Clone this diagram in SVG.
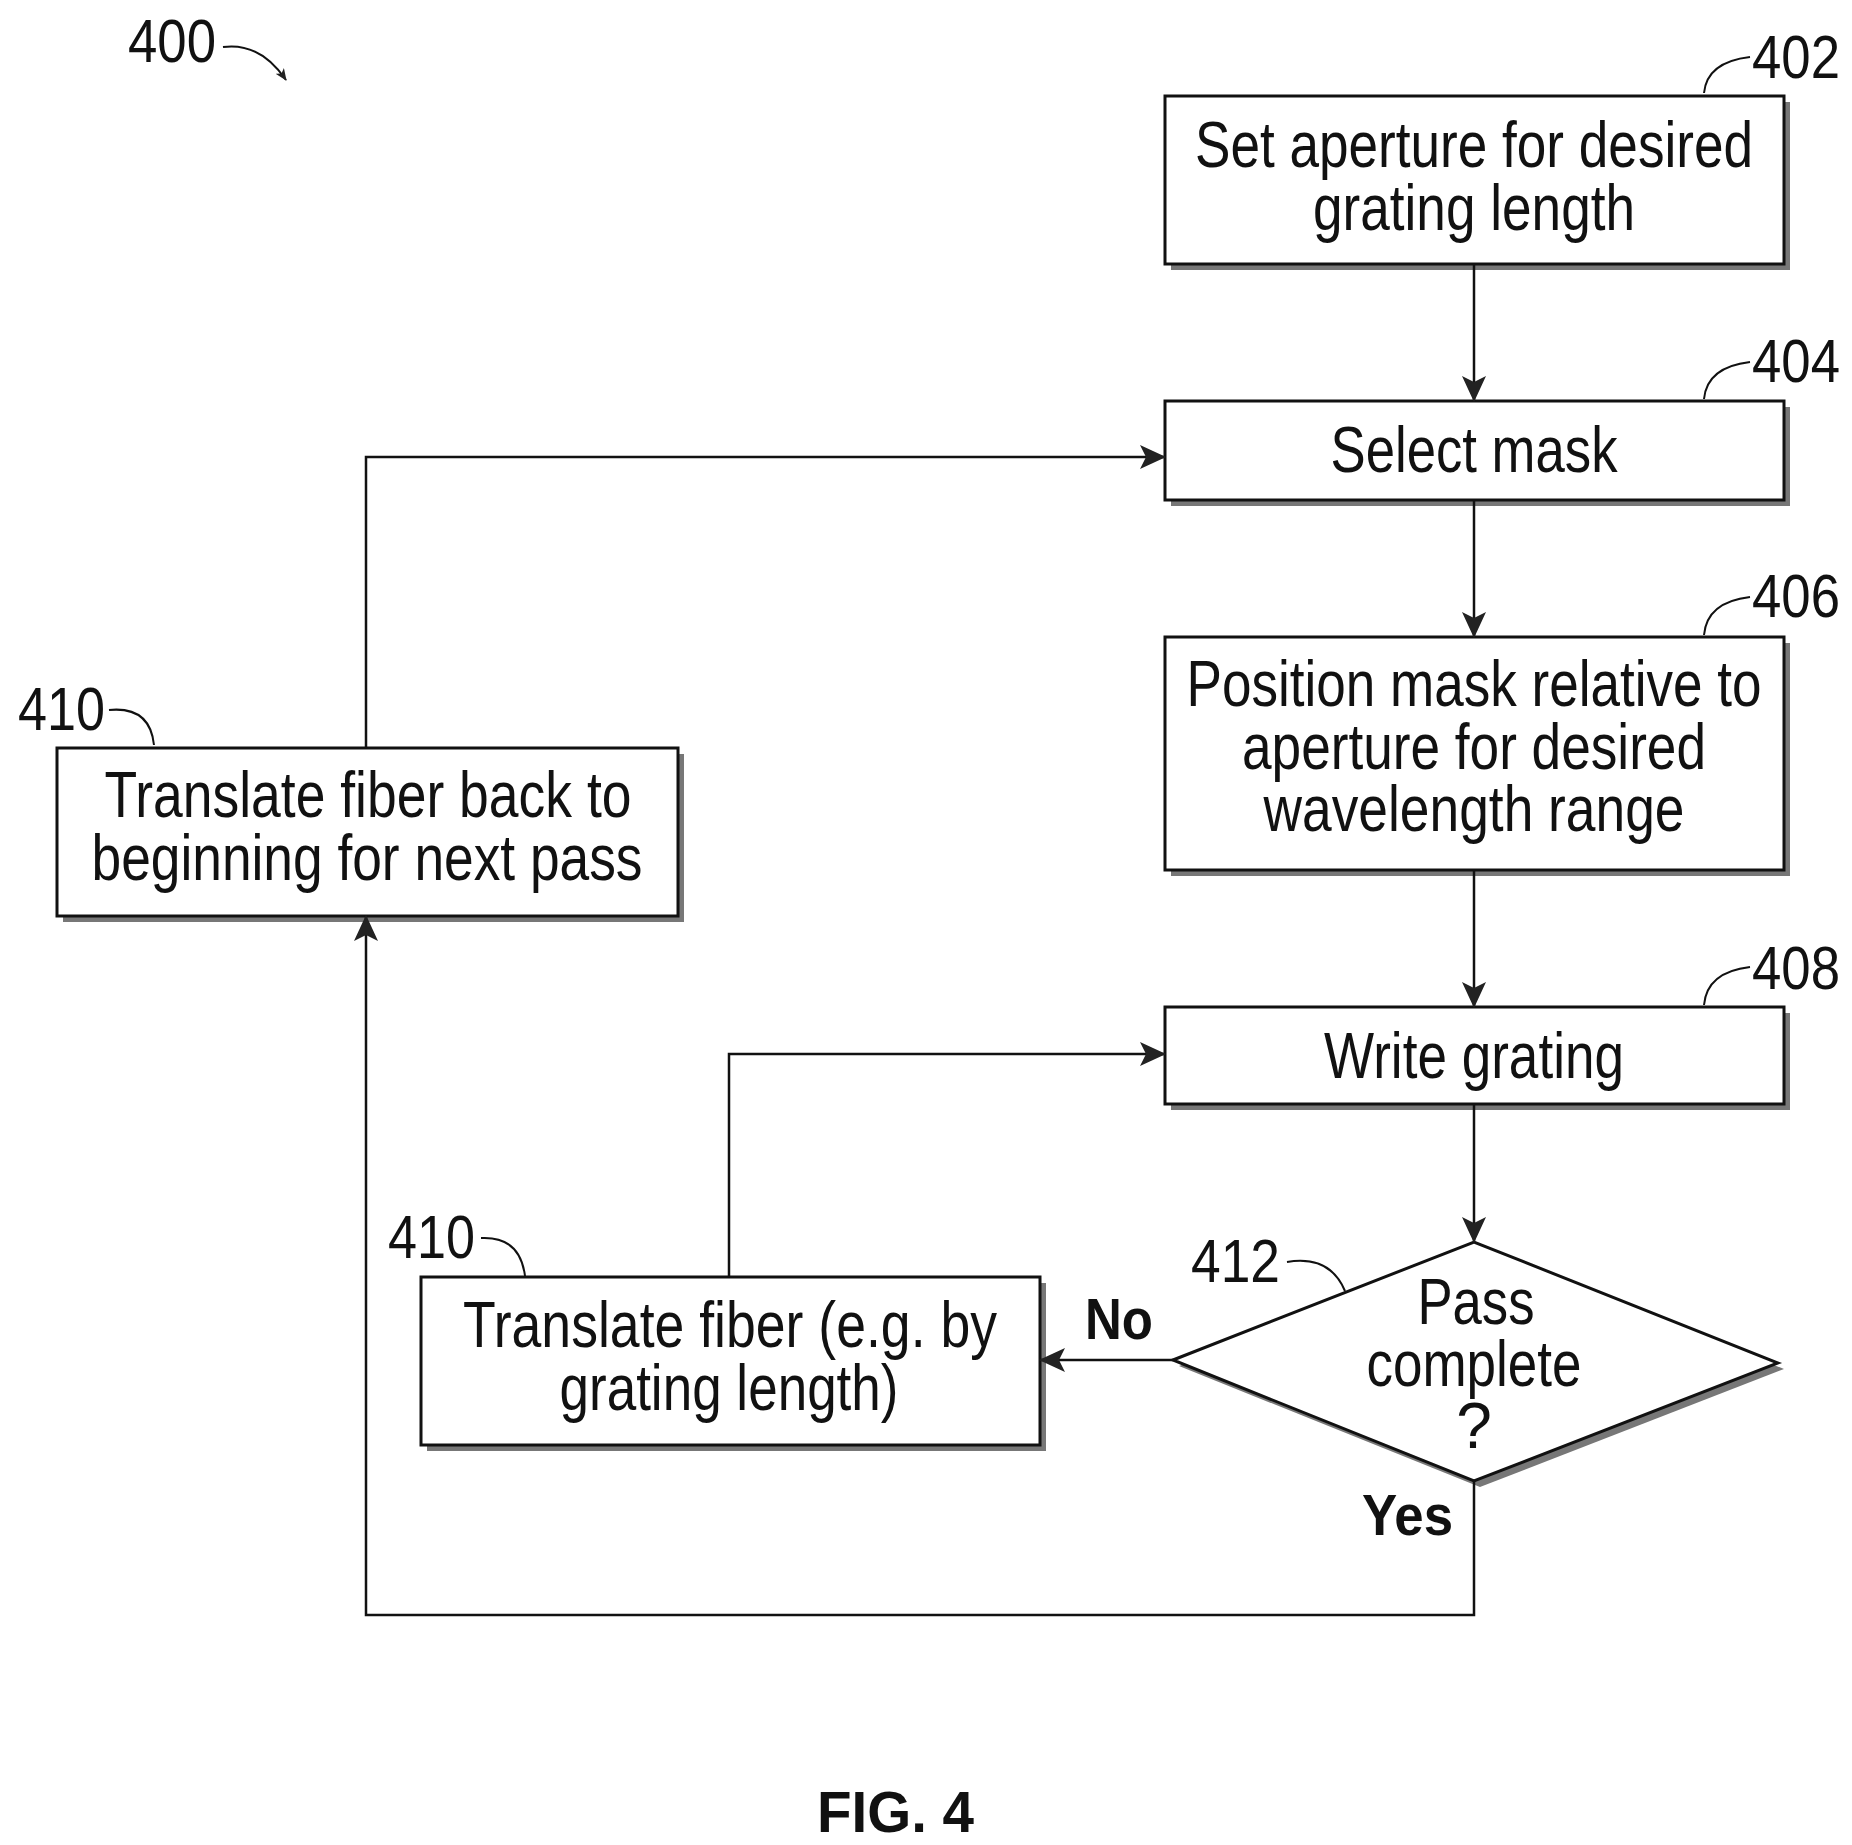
<svg xmlns="http://www.w3.org/2000/svg" width="1852" height="1845" viewBox="0 0 1852 1845">
<defs>
<marker id="ah" markerWidth="12" markerHeight="10" refX="11" refY="5" orient="auto" markerUnits="userSpaceOnUse" viewBox="0 0 12 10"><path d="M0,0 L12,5 L0,10 L3,5 Z" fill="#222"/></marker>
<marker id="ah2" markerWidth="26" markerHeight="24" refX="24" refY="12" orient="auto" markerUnits="userSpaceOnUse" viewBox="0 0 26 24"><path d="M0,0 L26,12 L0,24 L6,12 Z" fill="#222"/></marker>
</defs>
<style>
.box{fill:#fff;stroke:#111;stroke-width:3}
.sh{fill:#777}
.t{font-family:"Liberation Sans",Arial,sans-serif;font-size:64px;fill:#111;text-anchor:middle}
.n{font-family:"Liberation Sans",Arial,sans-serif;font-size:62px;fill:#111}
.b{font-family:"Liberation Sans",Arial,sans-serif;font-size:58px;font-weight:bold;fill:#111}
.ln{fill:none;stroke:#111;stroke-width:2.5}
.ld{fill:none;stroke:#111;stroke-width:2}
</style>
<rect width="1852" height="1845" fill="#fff"/>
<g id="n400">
<text class="n" x="128" y="62" textLength="88" lengthAdjust="spacingAndGlyphs">400</text>
<path class="ld" d="M223,47 Q260,42 286,80" marker-end="url(#ah)"/>
</g>
<g id="n402">
<rect class="sh" x="1171" y="102" width="619" height="168"/>
<rect class="box" x="1165" y="96" width="619" height="168"/>
<text class="t" x="1474" y="167" textLength="558" lengthAdjust="spacingAndGlyphs">Set aperture for desired</text>
<text class="t" x="1474" y="230" textLength="322" lengthAdjust="spacingAndGlyphs">grating length</text>
<path class="ld" d="M1704,93 Q1707,62 1750,57"/>
<text class="n" x="1752" y="78" textLength="88" lengthAdjust="spacingAndGlyphs">402</text>
</g>
<g id="n404">
<rect class="sh" x="1171" y="407" width="619" height="99"/>
<rect class="box" x="1165" y="401" width="619" height="99"/>
<text class="t" x="1474" y="472" textLength="287" lengthAdjust="spacingAndGlyphs">Select mask</text>
<path class="ld" d="M1704,399 Q1707,367 1750,362"/>
<text class="n" x="1752" y="382" textLength="88" lengthAdjust="spacingAndGlyphs">404</text>
</g>
<g id="n406">
<rect class="sh" x="1171" y="643" width="619" height="233"/>
<rect class="box" x="1165" y="637" width="619" height="233"/>
<text class="t" x="1474" y="706" textLength="575" lengthAdjust="spacingAndGlyphs">Position mask relative to</text>
<text class="t" x="1474" y="769" textLength="464" lengthAdjust="spacingAndGlyphs">aperture for desired</text>
<text class="t" x="1474" y="831" textLength="421" lengthAdjust="spacingAndGlyphs">wavelength range</text>
<path class="ld" d="M1704,635 Q1707,602 1750,597"/>
<text class="n" x="1752" y="617" textLength="88" lengthAdjust="spacingAndGlyphs">406</text>
</g>
<g id="n408">
<rect class="sh" x="1171" y="1013" width="619" height="97"/>
<rect class="box" x="1165" y="1007" width="619" height="97"/>
<text class="t" x="1474" y="1078" textLength="300" lengthAdjust="spacingAndGlyphs">Write grating</text>
<path class="ld" d="M1704,1005 Q1707,972 1750,967"/>
<text class="n" x="1752" y="989" textLength="88" lengthAdjust="spacingAndGlyphs">408</text>
</g>
<g id="n412">
<polygon class="sh" points="1179,1366 1480,1248 1784,1369 1480,1487"/>
<polygon class="box" points="1173,1360 1474,1242 1778,1363 1474,1481"/>
<text class="t" x="1476" y="1324" textLength="117" lengthAdjust="spacingAndGlyphs">Pass</text>
<text class="t" x="1474" y="1386" textLength="215" lengthAdjust="spacingAndGlyphs">complete</text>
<text class="t" x="1474" y="1448" font-size="58">?</text>
<path class="ld" d="M1287,1262 Q1330,1255 1345,1291"/>
<text class="n" x="1191" y="1282" textLength="89" lengthAdjust="spacingAndGlyphs">412</text>
</g>
<g id="n410b">
<rect class="sh" x="427" y="1283" width="619" height="168"/>
<rect class="box" x="421" y="1277" width="619" height="168"/>
<text class="t" x="730" y="1347" textLength="534" lengthAdjust="spacingAndGlyphs">Translate fiber (e.g. by</text>
<text class="t" x="729" y="1410" textLength="339" lengthAdjust="spacingAndGlyphs">grating length)</text>
<path class="ld" d="M481,1238 Q520,1236 525,1276"/>
<text class="n" x="388" y="1258" textLength="87" lengthAdjust="spacingAndGlyphs">410</text>
</g>
<g id="n410a">
<rect class="sh" x="63" y="754" width="621" height="168"/>
<rect class="box" x="57" y="748" width="621" height="168"/>
<text class="t" x="368" y="817" textLength="527" lengthAdjust="spacingAndGlyphs">Translate fiber back to</text>
<text class="t" x="367" y="880" textLength="551" lengthAdjust="spacingAndGlyphs">beginning for next pass</text>
<path class="ld" d="M109,710 Q150,706 154,745"/>
<text class="n" x="18" y="730" textLength="87" lengthAdjust="spacingAndGlyphs">410</text>
</g>
<g id="connectors">
<line class="ln" x1="1474" y1="264" x2="1474" y2="400" marker-end="url(#ah2)"/>
<line class="ln" x1="1474" y1="500" x2="1474" y2="636" marker-end="url(#ah2)"/>
<line class="ln" x1="1474" y1="870" x2="1474" y2="1006" marker-end="url(#ah2)"/>
<line class="ln" x1="1474" y1="1104" x2="1474" y2="1241" marker-end="url(#ah2)"/>
<line class="ln" x1="1173" y1="1360" x2="1041" y2="1360" marker-end="url(#ah2)"/>
<polyline class="ln" points="729,1277 729,1054 1164,1054" marker-end="url(#ah2)"/>
<polyline class="ln" points="1474,1481 1474,1615 366,1615 366,917" marker-end="url(#ah2)"/>
<polyline class="ln" points="366,748 366,457 1164,457" marker-end="url(#ah2)"/>
<text class="b" x="1085" y="1339" textLength="68" lengthAdjust="spacingAndGlyphs">No</text>
<text class="b" x="1362" y="1535" textLength="91" lengthAdjust="spacingAndGlyphs">Yes</text>
</g>
<text class="b" x="817" y="1832" font-size="62" textLength="157" lengthAdjust="spacingAndGlyphs">FIG. 4</text>
</svg>
